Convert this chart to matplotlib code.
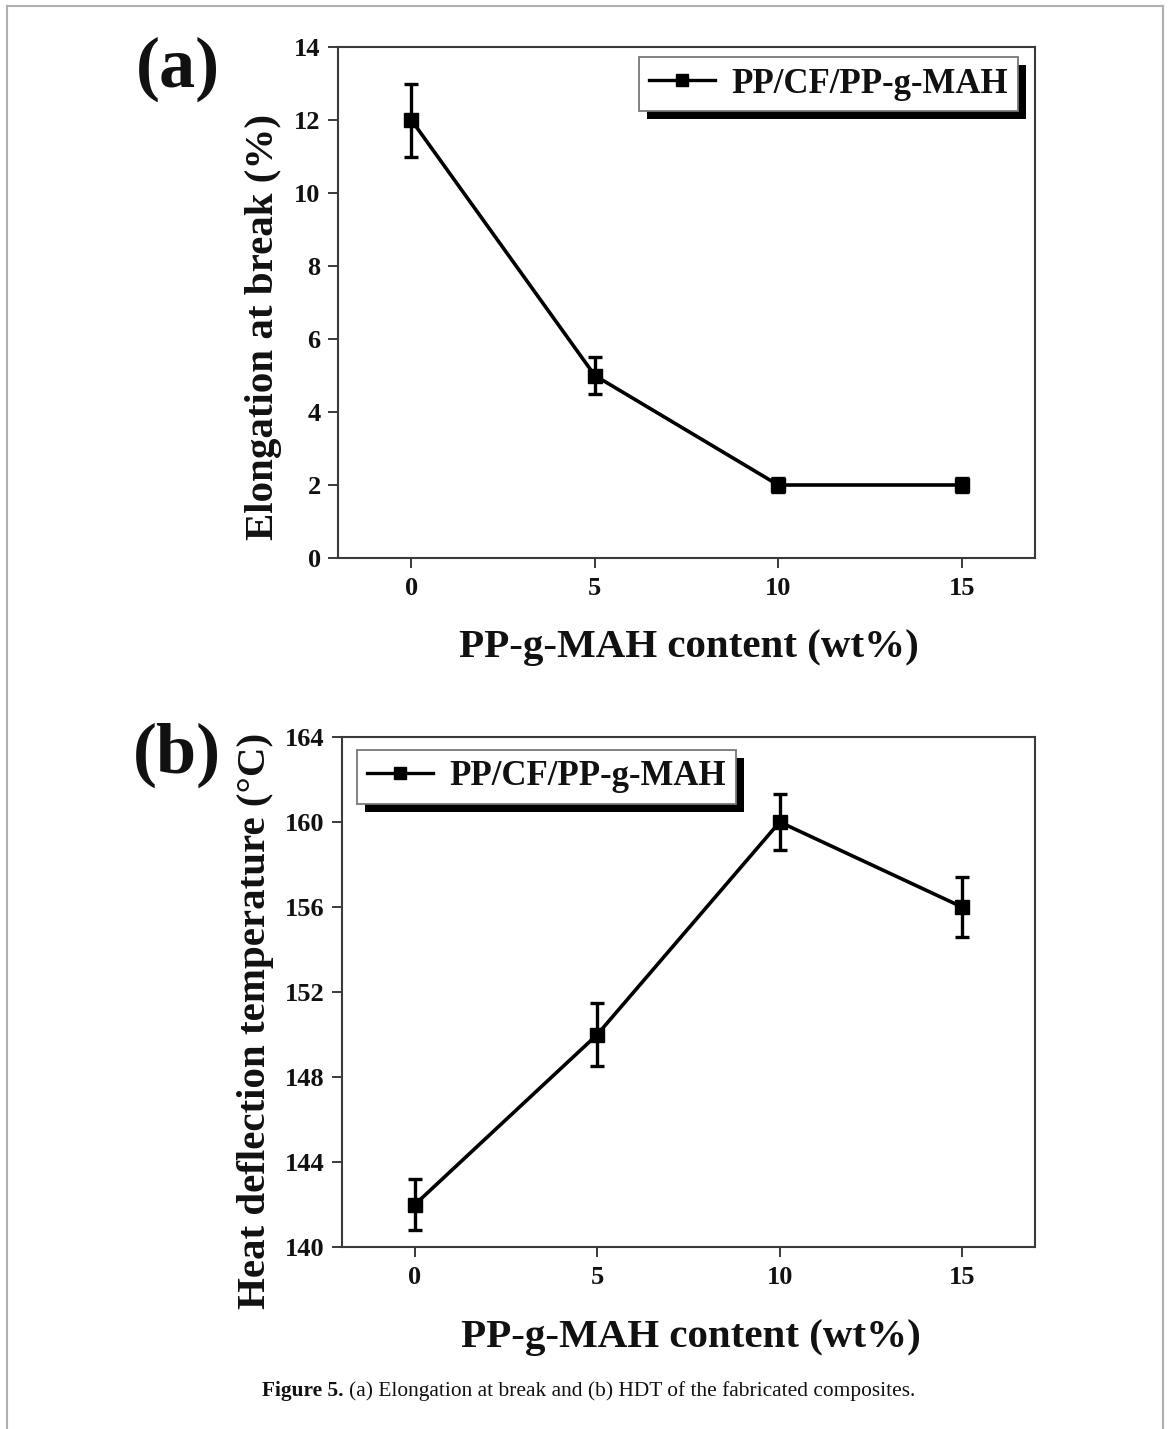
import matplotlib
matplotlib.use("Agg")
import matplotlib.pyplot as plt
from matplotlib.lines import Line2D
from matplotlib.patches import Rectangle
from matplotlib.transforms import IdentityTransform

# ---- data ----
content = [0, 5, 10, 15]
elong = [12, 5, 2, 2]
elong_err = [1.0, 0.5, 0.2, 0.2]
hdt = [142, 150, 160, 156]
hdt_err = [1.2, 1.5, 1.3, 1.4]
series_label = "PP/CF/PP-g-MAH"
xlabel = "PP-g-MAH content (wt%)"
ylabel_a = "Elongation at break (%)"
ylabel_b = "Heat deflection temperature (°C)"
xticks = [0, 5, 10, 15]
yticks_a = [0, 2, 4, 6, 8, 10, 12, 14]
yticks_b = [140, 144, 148, 152, 156, 160, 164]
caption_bold = "Figure 5."
caption_rest = "(a) Elongation at break and (b) HDT of the fabricated composites."

W, H = 1170, 1429
fig = plt.figure(figsize=(W / 100, H / 100), dpi=100)
fig.patch.set_facecolor("white")

serif = ["Liberation Serif", "DejaVu Serif"]
spine_col = "#3a3a3a"


def fx(px):
    return px / W


def fy(py):
    return 1 - py / H


ax_a = fig.add_axes([fx(338), fy(558), fx(1035) - fx(338), fy(47) - fy(558)])
ax_b = fig.add_axes([fx(342), fy(1247), fx(1035) - fx(342), fy(737) - fy(1247)])


def style(ax, yticks, ylim):
    ax.set_xlim(-2, 17)
    ax.set_ylim(*ylim)
    ax.set_xticks(xticks)
    ax.set_yticks(yticks)
    for s in ax.spines.values():
        s.set_linewidth(1.5)
        s.set_color(spine_col)
    ax.tick_params(axis="both", direction="out", length=7, width=1.4,
                   color=spine_col, top=False, right=False)
    ax.tick_params(axis="y", pad=5.5)
    ax.tick_params(axis="x", pad=7)
    for lab in ax.get_xticklabels() + ax.get_yticklabels():
        lab.set_fontfamily(serif)
        lab.set_fontweight("bold")
        lab.set_fontsize(19)
        lab.set_color("#111111")


def plot_series(ax, y, err):
    ax.errorbar(content, y, yerr=err, color="black", lw=2.6, elinewidth=2.4,
                capsize=5, capthick=2.4, marker="s", markersize=10.5,
                markerfacecolor="black", markeredgecolor="black",
                label=series_label, zorder=3)


def add_legend(ax, loc, anchor):
    handle = Line2D([], [], color="black", lw=2.4, marker="s", markersize=8.5,
                    markerfacecolor="black", markeredgecolor="black")
    leg = ax.legend([handle], [series_label], loc=loc, bbox_to_anchor=anchor,
                    borderaxespad=0, frameon=True, fancybox=False, framealpha=1,
                    prop={"family": serif, "weight": "bold", "size": 25},
                    handlelength=1.9, handletextpad=0.45, borderpad=0.3)
    fr = leg.get_frame()
    fr.set_edgecolor("#777777")
    fr.set_linewidth(1.3)
    fr.set_facecolor("white")
    for t in leg.get_texts():
        t.set_color("#111111")
    return leg


plot_series(ax_a, elong, elong_err)
style(ax_a, yticks_a, (0, 14))
plot_series(ax_b, hdt, hdt_err)
style(ax_b, yticks_b, (140, 164))

leg_a = add_legend(ax_a, "upper right", (0.9756, 0.980))
leg_b = add_legend(ax_b, "upper left", (0.0216, 0.9745))

lab_kw = dict(fontfamily=serif, fontweight="bold", fontsize=29.5, color="#111111",
              ha="center", va="center")
ax_a.set_xlabel(xlabel, **lab_kw)
ax_a.xaxis.set_label_coords(0.503, -0.176)
ax_a.set_ylabel(ylabel_a, **lab_kw)
ax_a.yaxis.set_label_coords(-0.1076, 0.452)

ax_b.set_xlabel(xlabel, **lab_kw)
ax_b.xaxis.set_label_coords(0.503, -0.1765)
ax_b.set_ylabel(ylabel_b, **lab_kw)
ax_b.yaxis.set_label_coords(-0.1255, 0.443)

# panel letters
fig.text(fx(178), fy(69), "(a)", fontfamily=serif, fontweight="bold", fontsize=52,
         ha="center", va="center", color="#111111")
fig.text(fx(177), fy(755), "(b)", fontfamily=serif, fontweight="bold", fontsize=52,
         ha="center", va="center", color="#111111")

# caption
t1 = fig.text(fx(262), fy(1401), caption_bold, fontfamily=serif, fontweight="bold",
              fontsize=15.4, ha="left", va="bottom", color="#111111")
ax_b.annotate(caption_rest, xy=(1, 0), xycoords=t1, xytext=(4, 0),
              textcoords="offset points", ha="left", va="bottom",
              fontfamily=serif, fontsize=15.4, color="#111111",
              annotation_clip=False)

# page frame
for xs, ys in [([7, 7], [1429, 6]), ([7, 1163], [6, 6]), ([1163, 1163], [6, 1429])]:
    fig.add_artist(Line2D([fx(v) for v in xs], [fy(v) for v in ys], color="#b0b0b0",
                          lw=1.5))

# legend shadows
fig.canvas.draw()
renderer = fig.canvas.get_renderer()
for ax, leg in [(ax_a, leg_a), (ax_b, leg_b)]:
    bb = leg.get_frame().get_window_extent(renderer)
    sh = Rectangle((bb.x0 + 8, bb.y0 - 8), bb.width, bb.height, transform=IdentityTransform(),
                   facecolor="black", edgecolor="none", zorder=4.5)
    ax.add_artist(sh)
    leg.set_zorder(6)

fig.savefig("out.png", dpi=100, facecolor="white")
